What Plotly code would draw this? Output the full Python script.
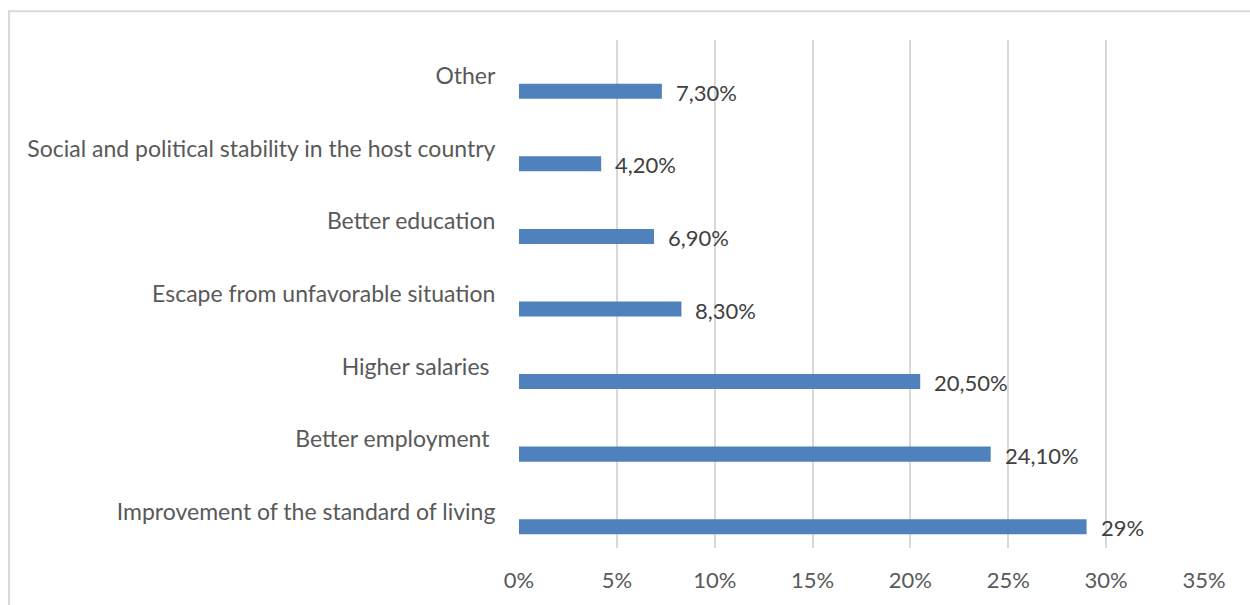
import plotly.graph_objects as go

# Reasons for migration, listed bottom to top
categories = [
    "Improvement of the standard of living",
    "Better employment\u00a0",
    "Higher salaries\u00a0",
    "Escape from unfavorable situation",
    "Better education",
    "Social and political stability in the host country",
    "Other",
]
values = [29.0, 24.1, 20.5, 8.3, 6.9, 4.2, 7.3]
value_labels = ["29%", "24,10%", "20,50%", "8,30%", "6,90%", "4,20%", "7,30%"]
x_ticks = [0, 5, 10, 15, 20, 25, 30, 35]
x_tick_text = ["0%", "5%", "10%", "15%", "20%", "25%", "30%", "35%"]

W, H = 1250, 605
M_L, M_R, M_T, M_B = 519, 46, 40, 53

FONT = "Lato"
BAR_COLOR = "#4f81bd"

fig = go.Figure()
fig.add_trace(go.Bar(
    x=values,
    y=categories,
    orientation="h",
    marker=dict(color=BAR_COLOR, line=dict(width=0)),
    width=0.207,
    offset=-0.31,
    hoverinfo="skip",
))

# value labels to the right of each bar
for v, c, lab in zip(values, categories, value_labels):
    fig.add_annotation(
        x=v, y=c, text=lab, showarrow=False,
        xanchor="left", yanchor="middle",
        xshift=12, yshift=-16,
        font=dict(family=FONT, size=22, color="#404040"),
    )

# chart frame
pw = W - M_L - M_R
ph = H - M_T - M_B
fig.add_shape(
    type="rect", xref="paper", yref="paper",
    x0=(9 - M_L) / pw, x1=(1262 - M_L) / pw,
    y0=(H - M_B - 616) / ph, y1=(H - M_B - 11) / ph,
    line=dict(color="#d9d9d9", width=2),
    fillcolor="rgba(0,0,0,0)", layer="below",
)

fig.update_layout(
    width=W, height=H,
    margin=dict(l=M_L, r=M_R, t=M_T, b=M_B, pad=0),
    paper_bgcolor="white", plot_bgcolor="white",
    showlegend=False,
    font=dict(family=FONT, color="#595959"),
    xaxis=dict(
        range=[0, 35], tickvals=x_ticks, ticktext=x_tick_text,
        showgrid=True, gridcolor="#d9d9d9", gridwidth=2,
        zeroline=False, showline=False,
        ticks="outside", ticklen=13, tickcolor="rgba(0,0,0,0)",
        tickfont=dict(family=FONT, size=22, color="#595959"),
        fixedrange=True,
    ),
    yaxis=dict(
        type="category", categoryorder="array", categoryarray=categories,
        range=[-0.5, 6.5],
        showgrid=False, zeroline=False, showline=False,
        ticks="outside", ticklen=18, tickcolor="rgba(0,0,0,0)",
        tickfont=dict(family=FONT, size=23, color="#595959"),
        fixedrange=True,
    ),
)

fig.write_html("out.html")
